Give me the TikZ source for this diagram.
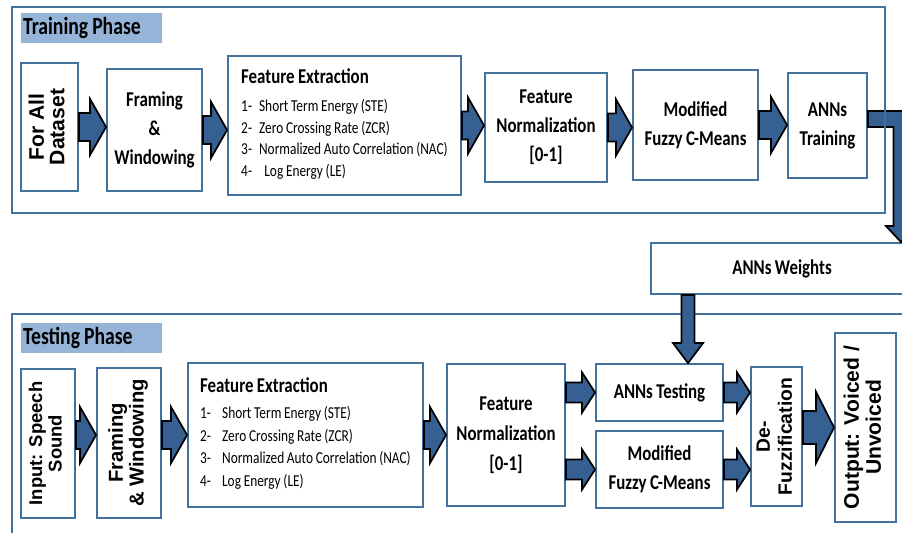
\documentclass[tikz,border=0pt]{standalone}
\usepackage{fontspec}
\setmainfont{Carlito}[FakeStretch=0.8, WordSpace=0.9]
\newfontfamily\rotfont{Liberation Sans}
\usepackage{graphicx}
\usetikzlibrary{calc}

\definecolor{boxblue}{RGB}{65,113,156}
\definecolor{bandblue}{RGB}{150,180,215}
\definecolor{arrowblue}{RGB}{55,96,146}

% upright text turned by 90 degrees: size, skip, lines
\newcommand{\vtext}[3]{\rotatebox{90}{\rotfont\bfseries\fontsize{#1}{#2}\selectfont\begin{tabular}{@{}c@{}}#3\end{tabular}}}

\tikzset{
  bshaft/.store in=\bshaft, bhead/.store in=\bhead, blen/.store in=\blen,
  bshaft=0.28cm, bhead=0.56cm, blen=0.32cm,
  box/.style={draw=boxblue, line width=1.1pt, fill=white, inner sep=2pt, align=center,
    font=\fontsize{12}{16.5}\selectfont\bfseries},
  band/.style={fill=bandblue, anchor=north west, inner xsep=1pt, inner ysep=0pt,
    minimum width=2.82cm, minimum height=0.6cm,
    font=\fontsize{14}{16}\selectfont\bfseries},
  frame/.style={draw=boxblue, line width=1.1pt},
  barrow/.style={draw=black, line width=1pt, fill=arrowblue,
    to path={let \p1=(\tikztostart), \p2=(\tikztotarget) in
      (\x1,\y1+\bshaft) -- (\x2-\blen,\y1+\bshaft) -- (\x2-\blen,\y1+\bhead) -- (\x2,\y1)
      -- (\x2-\blen,\y1-\bhead) -- (\x2-\blen,\y1-\bshaft) -- (\x1,\y1-\bshaft) -- cycle}},
  barrowdown/.style={draw=black, line width=1pt, fill=arrowblue,
    to path={let \p1=(\tikztostart), \p2=(\tikztotarget) in
      (\x1-\bshaft,\y1) -- (\x1-\bshaft,\y2+\blen) -- (\x1-\bhead,\y2+\blen) -- (\x1,\y2)
      -- (\x1+\bhead,\y2+\blen) -- (\x1+\bshaft,\y2+\blen) -- (\x1+\bshaft,\y1) -- cycle}},
}

\begin{document}
\begin{tikzpicture}[x=0.02cm, y=-0.02cm]
  \useasboundingbox (0,0) rectangle (902,533);
  \clip (0,0) rectangle (902,533);

  % Testing frame
  \draw[frame] (12,314) rectangle (930,550);
  \node[band] (testlbl) at (21,323) {\makebox[2.75cm][l]{Testing Phase}};

  % Training row
  \node[box, minimum width=1.14cm, minimum height=2.56cm] (all) at (49.5,127) {\vtext{12}{11.5}{For All\\Dataset}};
  \node[box, minimum width=1.9cm, minimum height=2.44cm] (fw) at (154.5,130) {Framing\\\&\\Windowing};
  \node[box, minimum width=4.66cm, minimum height=2.78cm, font=\fontsize{9.5}{12.3}\selectfont] (fe) at (344.5,125.5) {%
    \begin{tabular}{@{}l@{\hspace{4pt}}l@{}}
      \multicolumn{2}{@{}l@{}}{\fontsize{12}{14}\selectfont\bfseries Feature Extraction}\\[3.7pt]
      1- & Short Term Energy (STE)\\
      2- & Zero Crossing Rate (ZCR)\\
      3- & Normalized Auto Correlation (NAC)\\
      4- & \hspace{3pt}Log Energy (LE)
    \end{tabular}};
  \node[box, minimum width=2.44cm, minimum height=2.18cm] (fn) at (546,127.5) {Feature\\Normalization\\{[0-1]}};
  \node[box, minimum width=2.5cm, minimum height=2.2cm] (mfcm) at (695.5,125) {Modified\\Fuzzy C-Means};
  \node[box, minimum width=1.58cm, minimum height=2.1cm] (trn) at (827.5,125.5) {ANNs\\Training};

  % Weights
  \node[box, minimum width=5.24cm, minimum height=1.02cm] (wts) at (782,268.5) {ANNs Weights};

  % Testing row
  \node[box, minimum width=1.08cm, minimum height=2.98cm] (inp) at (48,443.5) {\vtext{10.5}{11}{Input: Speech\\Sound}};
  \node[box, minimum width=1.28cm, minimum height=3.0cm] (fw2) at (129,443) {\vtext{11.5}{11.5}{Framing\\\& Windowing}};
  \node[box, minimum width=4.7cm, minimum height=2.88cm, font=\fontsize{9.5}{12.8}\selectfont] (fe2) at (305.5,435) {%
    \begin{tabular}{@{}l@{\hspace{6.3pt}}l@{}}
      \multicolumn{2}{@{}l@{}}{\fontsize{12}{14}\selectfont\bfseries Feature Extraction}\\[2pt]
      1- & Short Term Energy (STE)\\
      2- & Zero Crossing Rate (ZCR)\\
      3- & Normalized Auto Correlation (NAC)\\
      4- & Log Energy (LE)
    \end{tabular}};
  \node[box, minimum width=2.36cm, minimum height=2.84cm, font=\fontsize{12}{17}\selectfont\bfseries] (fn2) at (506,435) {Feature\\Normalization\\{[0-1]}};
  \node[box, minimum width=2.54cm, minimum height=1.14cm] (tst) at (659.5,392.5) {ANNs Testing};
  \node[box, minimum width=2.54cm, minimum height=1.54cm] (mfcm2) at (659.5,469.5) {Modified\\Fuzzy C-Means};
  \node[box, minimum width=1.02cm, minimum height=2.78cm] (dfz) at (776.5,436.5) {\vtext{11}{12.5}{De-\\Fuzzification}};
  \node[box, minimum width=1.22cm, minimum height=3.78cm] (out) at (865.5,427.5) {\vtext{12}{12.5}{Output: Voiced /\\Unvoiced}};

  % Training arrows
  \draw[barrow] (all.east) to (fw.west);
  \draw[barrow] (fw.east) to (fe.west);
  \draw[barrow] (fe.east) to (fn.west);
  \draw[barrow] (fn.east) to (mfcm.west);
  \draw[barrow] (mfcm.east) to (trn.west);

  % Training to weights
  \coordinate (bend) at (901,119);
  \filldraw[draw=black, line width=1pt, fill=arrowblue]
    let \p1=(trn.east |- bend), \p2=(bend), \p3=(bend |- wts.north) in
    (\x1,\y1+0.16cm) -- (\x2+0.15cm,\y1+0.16cm) -- (\x2+0.15cm,\y3+0.32cm) -- (\x2+0.3cm,\y3+0.32cm)
    -- (\x2,\y3) -- (\x2-0.3cm,\y3+0.32cm) -- (\x2-0.15cm,\y3+0.32cm) -- (\x2-0.15cm,\y1-0.16cm)
    -- (\x1,\y1-0.16cm) -- cycle;

  % Training frame
  \draw[frame] (12,7) rectangle (885,213);
  \node[band] (trainlbl) at (21,13) {\makebox[2.75cm][l]{Training Phase}};

  % Weights to testing
  \coordinate (drop) at (688,0);
  \draw[barrowdown, bshaft=0.13cm, bhead=0.3cm, blen=0.4cm] (wts.south -| drop) to (tst.north -| drop);

  % Testing arrows
  \draw[barrow] (inp.east |- fe2.west) to (fw2.west);
  \draw[barrow] (fw2.east |- fe2.west) to (fe2.west);
  \draw[barrow] (fe2.east) to (fn2.west);
  \draw[barrow, bshaft=0.2cm, bhead=0.4cm, blen=0.26cm] (fn2.east |- tst.west) to (tst.west);
  \draw[barrow, bshaft=0.2cm, bhead=0.4cm, blen=0.26cm] (fn2.east |- mfcm2.west) to (mfcm2.west);
  \draw[barrow, bshaft=0.2cm, bhead=0.4cm, blen=0.26cm] (tst.east) to (dfz.west);
  \draw[barrow, bshaft=0.2cm, bhead=0.4cm, blen=0.26cm] (mfcm2.east) to (dfz.west);
  \draw[barrow, bshaft=0.33cm, bhead=0.71cm, blen=0.36cm] (dfz.east |- out.west) to (out.west);
\end{tikzpicture}
\end{document}
